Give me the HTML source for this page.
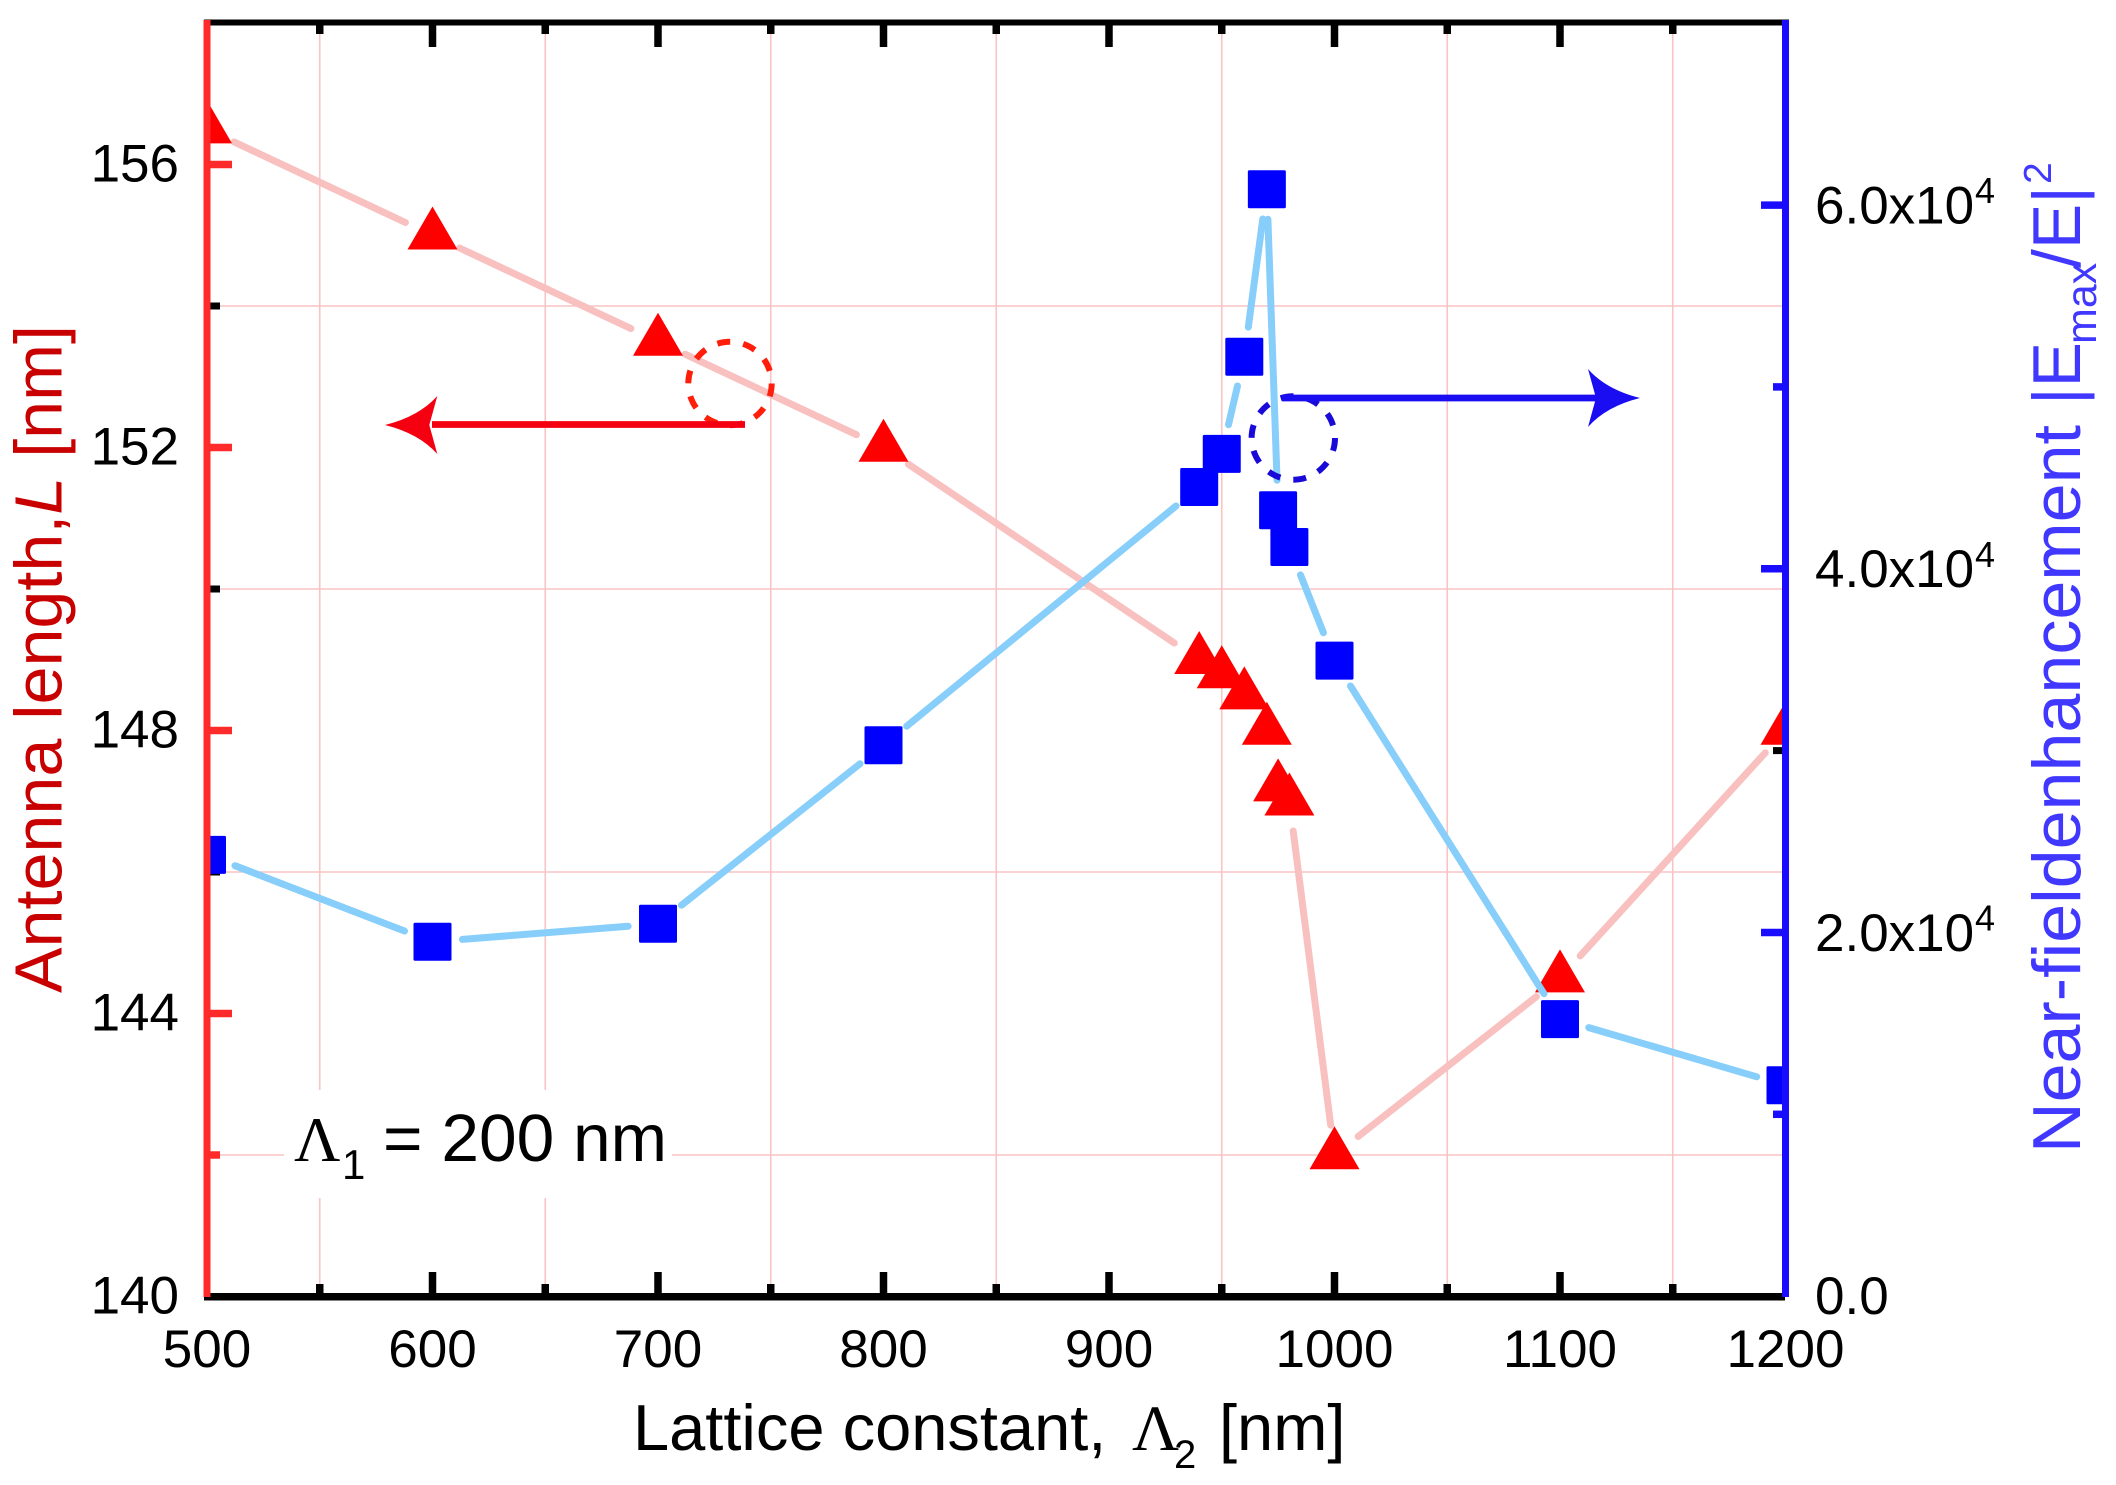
<!DOCTYPE html>
<html>
<head>
<meta charset="utf-8">
<style>
  html, body { margin: 0; padding: 0; background: #ffffff; }
  svg { display: block; }
  text { font-family: "Liberation Sans", Arial, sans-serif; }
  .serif { font-family: "Liberation Serif", "Times New Roman", serif; }
</style>
</head>
<body>
<svg xmlns="http://www.w3.org/2000/svg" width="2116" height="1485" viewBox="0 0 2116 1485">
  <defs>
    <clipPath id="plot"><rect x="207" y="22" width="1578.5" height="1274.5"/></clipPath>
    <path id="tri" d="M0,-28.7 L25,14.3 L-25,14.3 Z"/>
    <rect id="sq" x="-19" y="-19" width="38" height="38" rx="1.5"/>
  </defs>
  <rect width="2116" height="1485" fill="#ffffff"/>

  <!-- gridlines -->
  <g stroke="#f8c4c4" stroke-width="1.6">
    <line x1="319.75" y1="22" x2="319.75" y2="1296"/>
    <line x1="545.25" y1="22" x2="545.25" y2="1296"/>
    <line x1="770.75" y1="22" x2="770.75" y2="1296"/>
    <line x1="996.25" y1="22" x2="996.25" y2="1296"/>
    <line x1="1221.75" y1="22" x2="1221.75" y2="1296"/>
    <line x1="1447.25" y1="22" x2="1447.25" y2="1296"/>
    <line x1="1672.75" y1="22" x2="1672.75" y2="1296"/>
    <line x1="207" y1="306" x2="1785" y2="306"/>
    <line x1="207" y1="589" x2="1785" y2="589"/>
    <line x1="207" y1="872" x2="1785" y2="872"/>
    <line x1="207" y1="1155" x2="1785" y2="1155"/>
  </g>

  <!-- label background box -->
  <rect x="284" y="1090" width="388" height="108" fill="#ffffff"/>

  <!-- ticks -->
  <g stroke="#000" stroke-width="7.5">
    <line x1="432.5" y1="22" x2="432.5" y2="47"/>
    <line x1="658" y1="22" x2="658" y2="47"/>
    <line x1="883.5" y1="22" x2="883.5" y2="47"/>
    <line x1="1109" y1="22" x2="1109" y2="47"/>
    <line x1="1334.5" y1="22" x2="1334.5" y2="47"/>
    <line x1="1560" y1="22" x2="1560" y2="47"/>
    <line x1="319.75" y1="22" x2="319.75" y2="34"/>
    <line x1="545.25" y1="22" x2="545.25" y2="34"/>
    <line x1="770.75" y1="22" x2="770.75" y2="34"/>
    <line x1="996.25" y1="22" x2="996.25" y2="34"/>
    <line x1="1221.75" y1="22" x2="1221.75" y2="34"/>
    <line x1="1447.25" y1="22" x2="1447.25" y2="34"/>
    <line x1="1672.75" y1="22" x2="1672.75" y2="34"/>
    <line x1="432.5" y1="1296" x2="432.5" y2="1272"/>
    <line x1="658" y1="1296" x2="658" y2="1272"/>
    <line x1="883.5" y1="1296" x2="883.5" y2="1272"/>
    <line x1="1109" y1="1296" x2="1109" y2="1272"/>
    <line x1="1334.5" y1="1296" x2="1334.5" y2="1272"/>
    <line x1="1560" y1="1296" x2="1560" y2="1272"/>
    <line x1="319.75" y1="1296" x2="319.75" y2="1284"/>
    <line x1="545.25" y1="1296" x2="545.25" y2="1284"/>
    <line x1="770.75" y1="1296" x2="770.75" y2="1284"/>
    <line x1="996.25" y1="1296" x2="996.25" y2="1284"/>
    <line x1="1221.75" y1="1296" x2="1221.75" y2="1284"/>
    <line x1="1447.25" y1="1296" x2="1447.25" y2="1284"/>
    <line x1="1672.75" y1="1296" x2="1672.75" y2="1284"/>
  </g>
  <g stroke="#ff2a2a" stroke-width="7.5">
    <line x1="207" y1="1013.5" x2="232" y2="1013.5"/>
    <line x1="207" y1="730.5" x2="232" y2="730.5"/>
    <line x1="207" y1="447.5" x2="232" y2="447.5"/>
    <line x1="207" y1="164.5" x2="232" y2="164.5"/>
    <line x1="207" y1="1155" x2="220" y2="1155"/>
  </g>
  <g stroke="#000" stroke-width="7">
    <line x1="207" y1="872" x2="220" y2="872"/>
    <line x1="207" y1="589" x2="220" y2="589"/>
    <line x1="207" y1="306" x2="220" y2="306"/>
    <line x1="1785" y1="750.6" x2="1773" y2="750.6"/>
  </g>
  <g stroke="#1a0dff" stroke-width="7.5">
    <line x1="1785" y1="932.5" x2="1761" y2="932.5"/>
    <line x1="1785" y1="568.8" x2="1761" y2="568.8"/>
    <line x1="1785" y1="205.1" x2="1761" y2="205.1"/>
    <line x1="1785" y1="1114.3" x2="1773" y2="1114.3"/>
    <line x1="1785" y1="386.9" x2="1773" y2="386.9"/>
  </g>

  <!-- data -->
  <g clip-path="url(#plot)">
    <g stroke="#f9c0c0" stroke-width="7" stroke-linecap="round" fill="none">
      <line x1="234.1" y1="141.9" x2="405.4" y2="222.5"/>
      <line x1="459.6" y1="248.0" x2="630.9" y2="328.6"/>
      <line x1="685.1" y1="354.2" x2="856.4" y2="434.7"/>
      <line x1="908.4" y1="464.2" x2="1174.3" y2="643.0"/>
      <line x1="1293.2" y1="831.0" x2="1330.7" y2="1125.2"/>
      <line x1="1358.1" y1="1136.5" x2="1536.4" y2="996.6"/>
      <line x1="1580.2" y1="955.9" x2="1765.3" y2="752.7"/>
    </g>
    <g fill="#ff0000">
      <use href="#tri" x="207" y="129.1"/>
      <use href="#tri" x="432.5" y="235.25"/>
      <use href="#tri" x="658" y="341.4"/>
      <use href="#tri" x="883.5" y="447.5"/>
      <use href="#tri" x="1199.2" y="659.75"/>
      <use href="#tri" x="1221.75" y="673.9"/>
      <use href="#tri" x="1244.3" y="695.1"/>
      <use href="#tri" x="1266.85" y="730.5"/>
      <use href="#tri" x="1278.1" y="787.1"/>
      <use href="#tri" x="1289.4" y="801.25"/>
      <use href="#tri" x="1334.5" y="1155"/>
      <use href="#tri" x="1560" y="978.1"/>
      <use href="#tri" x="1785.5" y="730.5"/>
    </g>
    <g stroke="#87cefa" stroke-width="7" stroke-linecap="round" fill="none">
      <line x1="235.0" y1="865.7" x2="404.5" y2="931.0"/>
      <line x1="462.4" y1="939.4" x2="628.1" y2="926.2"/>
      <line x1="681.5" y1="905.2" x2="860.0" y2="763.8"/>
      <line x1="906.7" y1="726.2" x2="1176.0" y2="506.0"/>
      <line x1="1228.5" y1="424.7" x2="1237.5" y2="386.0"/>
      <line x1="1248.3" y1="327.1" x2="1262.8" y2="219.0"/>
      <line x1="1267.9" y1="219.3" x2="1277.05" y2="480.2"/>
      <line x1="1300.5" y1="574.9" x2="1323.4" y2="632.7"/>
      <line x1="1350.5" y1="686.0" x2="1544.0" y2="993.7"/>
      <line x1="1588.8" y1="1027.6" x2="1756.7" y2="1076.8"/>
    </g>
    <g fill="#0000ff">
      <use href="#sq" x="207" y="854.9"/>
      <use href="#sq" x="432.5" y="941.8"/>
      <use href="#sq" x="658" y="923.8"/>
      <use href="#sq" x="883.5" y="745.2"/>
      <use href="#sq" x="1199.2" y="487.0"/>
      <use href="#sq" x="1221.75" y="453.9"/>
      <use href="#sq" x="1244.3" y="356.8"/>
      <use href="#sq" x="1266.85" y="189.3"/>
      <use href="#sq" x="1278.1" y="510.2"/>
      <use href="#sq" x="1289.4" y="547.0"/>
      <use href="#sq" x="1334.5" y="660.6"/>
      <use href="#sq" x="1560" y="1019.1"/>
      <use href="#sq" x="1785.5" y="1085.3"/>
    </g>
  </g>

  <!-- axes lines -->
  <line x1="204" y1="22.5" x2="1789" y2="22.5" stroke="#000" stroke-width="6"/>
  <line x1="204" y1="1296.75" x2="1785" y2="1296.75" stroke="#000" stroke-width="7.5"/>
  <line x1="207" y1="20" x2="207" y2="1297" stroke="#ff2a2a" stroke-width="7"/>
  <line x1="1785.5" y1="20" x2="1785.5" y2="1297" stroke="#1a0dff" stroke-width="7"/>

  <!-- circles and arrows -->
  <circle cx="730" cy="383.5" r="41.7" fill="none" stroke="#ff1e0a" stroke-width="6" stroke-dasharray="13 13.2"/>
  <line x1="745" y1="424.5" x2="432" y2="424.5" stroke="#f50010" stroke-width="6.7"/>
  <path d="M385,425 Q419,416.5 437.3,396 L429.3,425 L437.3,454 Q419,433.5 385,425 Z" fill="#f50010"/>

  <circle cx="1293.3" cy="438" r="41.7" fill="none" stroke="#1a0ad8" stroke-width="6" stroke-dasharray="13 13.2"/>
  <line x1="1282" y1="398" x2="1598" y2="398" stroke="#1a0df2" stroke-width="6.7"/>
  <path d="M1640,398 Q1606,389.5 1588,369 L1596,398 L1588,427 Q1606,406.5 1640,398 Z" fill="#1a0df2"/>

  <!-- left tick labels -->
  <g font-size="53" fill="#000" text-anchor="end">
    <text x="179" y="1313.5">140</text>
    <text x="179" y="1030.5">144</text>
    <text x="179" y="747.5">148</text>
    <text x="179" y="464.5">152</text>
    <text x="179" y="181.5">156</text>
  </g>
  <!-- bottom tick labels -->
  <g font-size="53" fill="#000" text-anchor="middle">
    <text x="207" y="1367">500</text>
    <text x="432.5" y="1367">600</text>
    <text x="658" y="1367">700</text>
    <text x="883.5" y="1367">800</text>
    <text x="1109" y="1367">900</text>
    <text x="1334.5" y="1367">1000</text>
    <text x="1560" y="1367">1100</text>
    <text x="1785.5" y="1367">1200</text>
  </g>
  <!-- right tick labels -->
  <g font-size="53" fill="#000">
    <text x="1815" y="1314">0.0</text>
    <text x="1815" y="951">2.0x10</text>
    <text x="1815" y="587">4.0x10</text>
    <text x="1815" y="223.5">6.0x10</text>
  </g>
  <g font-size="36" fill="#000">
    <text x="1975" y="930.5">4</text>
    <text x="1975" y="566.8">4</text>
    <text x="1975" y="203">4</text>
  </g>

  <!-- x axis title -->
  <text x="633" y="1450" font-size="65" fill="#000">Lattice constant,</text>
  <text class="serif" x="1132" y="1450" font-size="65" fill="#000">Λ</text>
  <text x="1174" y="1468" font-size="40" fill="#000">2</text>
  <text x="1219" y="1450" font-size="65" fill="#000">[nm]</text>

  <!-- Lambda1 label -->
  <text class="serif" x="294" y="1161" font-size="64" fill="#000">Λ</text>
  <text x="342" y="1179" font-size="42" fill="#000">1</text>
  <text x="383" y="1161" font-size="67" fill="#000" textLength="284" lengthAdjust="spacingAndGlyphs">= 200 nm</text>

  <!-- left axis title -->
  <g transform="translate(61.7,993) rotate(-90)">
    <text x="0" y="0" font-size="67" fill="#c80000" textLength="668" lengthAdjust="spacingAndGlyphs">Antenna length,<tspan font-style="italic">L</tspan> [nm]</text>
  </g>

  <!-- right axis title -->
  <g transform="translate(2080,1153) rotate(-90)" fill="#4038ff">
    <text x="0" y="0" font-size="68" textLength="728" lengthAdjust="spacingAndGlyphs">Near-fieldenhancement</text>
    <text x="748" y="0" font-size="68">|E</text>
    <text x="809" y="16" font-size="43">max</text>
    <text x="885" y="0" font-size="68">/E|</text>
    <text x="969" y="-29" font-size="39">2</text>
  </g>
</svg>
</body>
</html>
